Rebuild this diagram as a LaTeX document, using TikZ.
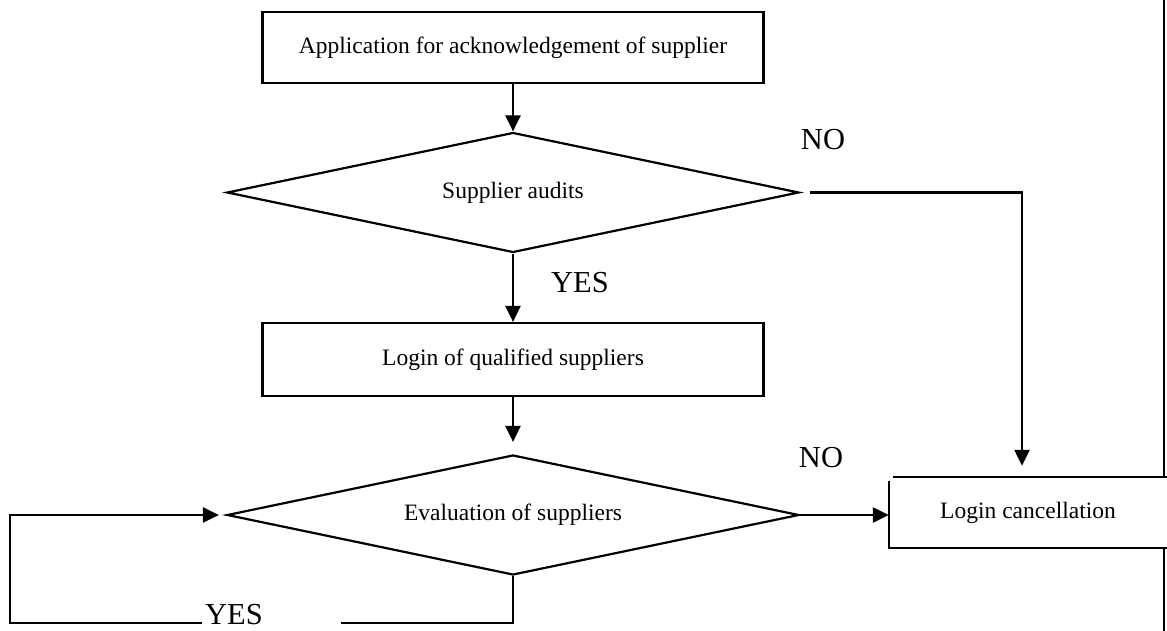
\documentclass[tikz,border=0pt]{standalone}
\usepackage{fontspec}
\setmainfont{Liberation Serif}
\usetikzlibrary{arrows.meta,shapes.geometric}
\tikzset{
  boxnode/.style={draw, line width=2.2pt, rectangle, minimum width=501pt, inner sep=0pt, font=\fontsize{23.5}{28}\selectfont},
  decnode/.style={draw, line width=2.2pt, diamond, aspect=4.8, inner sep=2pt, minimum width=572pt, minimum height=120pt, font=\fontsize{23.5}{28}\selectfont},
  plain/.style={inner sep=0pt, font=\fontsize{23.5}{28}\selectfont},
  lbl/.style={inner sep=0pt, font=\fontsize{30.5}{36}\selectfont},
  conn/.style={line width=2.4pt},
  arr/.style={line width=2.4pt, -{Triangle[length=16pt,width=15pt]}}
}
\begin{document}
\begin{tikzpicture}[x=1pt,y=-1pt]
\useasboundingbox (0,0) rectangle (1167,631);
\node[boxnode, minimum height=71pt] (app) at (513,47.5) {Application for acknowledgement of supplier};
\node[decnode] (aud) at (513,192.5) {Supplier audits};
\node[boxnode, minimum height=73pt] (qual) at (513,359.5) {Login of qualified suppliers};
\node[decnode] (eval) at (513,515) {Evaluation of suppliers};
\node[plain, minimum width=278pt, minimum height=71pt] (canc) at (1028,512.5) {Login cancellation};
\node[lbl] (no1) at (823,140) {NO};
\node[lbl] (yes1) at (580,283) {YES};
\node[lbl] (no2) at (821,458) {NO};
\node[lbl] (yes2) at (234,615) {YES};
\coordinate (rt) at (1164,0);
\coordinate (rb) at (1164,631);
\coordinate (lb) at (10,623);
\coordinate (rgap) at (341,623);
% cancellation box (open on the right)
\draw[conn] ([xshift=4pt]canc.north west) -- (canc.north east);
\draw[conn] ([yshift=-4pt]canc.north west) -- (canc.south west) -- (canc.south east);
\draw[conn] (rt) -- (rt |- canc.north);
\draw[conn] (rb) -- (rb |- canc.south);
% connectors
\draw[arr] (app.south) -- (aud.north);
\draw[arr] (aud.south) -- (qual.north);
\draw[arr, shorten >=12pt] (qual.south) -- (eval.north);
\draw[arr, shorten >=11pt] ([xshift=10pt]aud.east) -| ([xshift=-6pt]canc.north);
\draw[arr] (eval.east) -- (eval.east -| canc.west);
\draw[conn] (eval.south) |- (rgap);
\draw[arr, shorten >=7pt] ([xshift=-3pt]lb -| yes2.west) -- (lb) |- (eval.west);
\end{tikzpicture}
\end{document}
